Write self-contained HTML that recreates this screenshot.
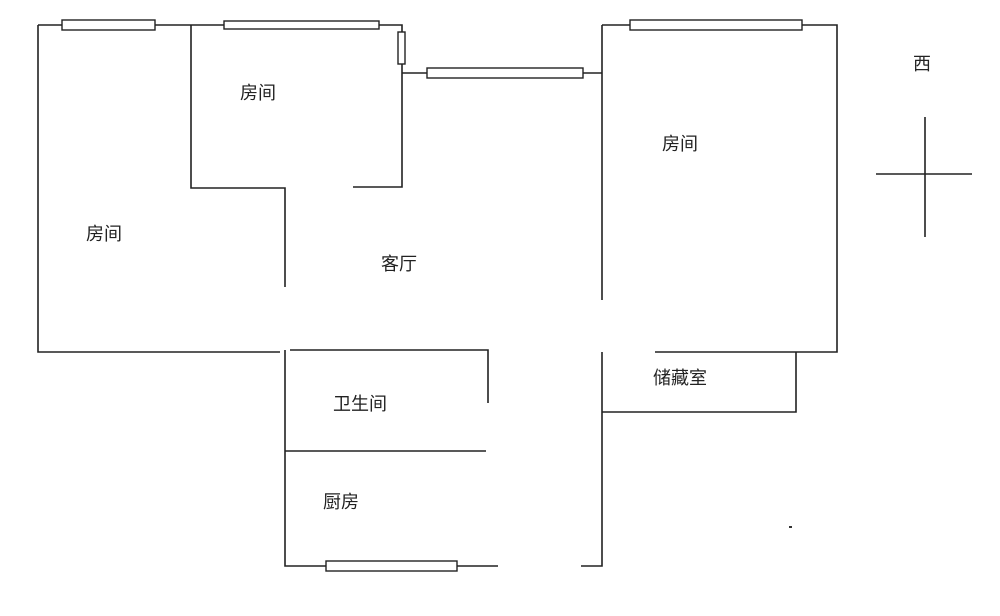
<!DOCTYPE html>
<html><head><meta charset="utf-8"><style>
html,body{margin:0;padding:0;background:#fff;}
svg{display:block;}
text{font-family:"Liberation Sans","Noto Sans CJK SC",sans-serif;font-size:18px;fill:#222;}
</style></head><body>
<svg width="1000" height="616" viewBox="0 0 1000 616" xmlns="http://www.w3.org/2000/svg">
<g stroke="#222" stroke-width="1.6" fill="none">
<path d="M38 25H402V187H353"/>
<path d="M191 25V188H285V287"/>
<path d="M38 25V352H280"/>
<path d="M402 73H602"/>
<path d="M602 25V300"/>
<path d="M602 25H837V352H655"/>
<path d="M796 352V412H602"/>
<path d="M602 352V566H581"/>
<path d="M285 350V566H498"/>
<path d="M290 350H488V403"/>
<path d="M285 451H486"/>
<path d="M876 174H972"/>
<path d="M925 117V237"/>
</g>
<g stroke="#222" stroke-width="1.4" fill="#fff">
<rect x="62" y="20" width="93" height="10"/>
<rect x="224" y="21" width="155" height="8"/>
<rect x="398" y="32" width="7" height="32"/>
<rect x="427" y="68" width="156" height="10"/>
<rect x="630" y="20" width="172" height="10"/>
<rect x="326" y="561" width="131" height="10"/>
</g>
<rect x="789" y="526" width="3" height="2" fill="#333"/>
<text x="240" y="99">房间</text>
<text x="86" y="240">房间</text>
<text x="662" y="150">房间</text>
<text x="381" y="270">客厅</text>
<text x="333" y="410">卫生间</text>
<text x="323" y="508">厨房</text>
<text x="653" y="384">储藏室</text>
<text x="913" y="70">西</text>
</svg>
</body></html>
